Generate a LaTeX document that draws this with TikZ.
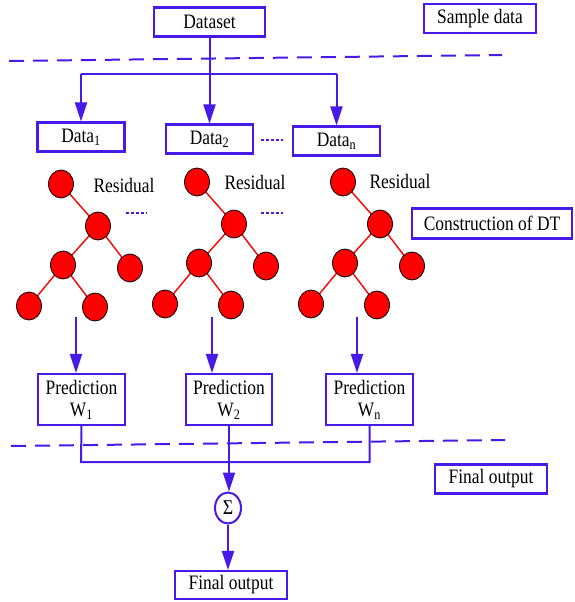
\documentclass[tikz,border=0pt]{standalone}
\usepackage{fontspec}
\setmainfont[FakeStretch=0.85]{Liberation Serif}
\usetikzlibrary{arrows.meta,shapes.geometric}
\definecolor{bl}{RGB}{72,26,232}
\definecolor{rd}{RGB}{255,0,0}
\tikzset{
  box/.style={draw=bl,line width=2.1pt,fill=white,rectangle,inner sep=0pt,font=\fontsize{20.5}{22}\selectfont,align=center},
  conn/.style={draw=bl,line width=2pt},
  arr/.style={conn,-{Triangle[length=19pt,width=12pt]}},
  dash2/.style={draw=bl,line width=2pt,dash pattern=on 15pt off 9pt},
  dots/.style={draw=bl,line width=2pt,dash pattern=on 2.5pt off 2.5pt},
  leaf/.style={ellipse,draw=black,line width=0.8pt,fill=rd,minimum width=25pt,minimum height=28pt,inner sep=0pt},
  edge/.style={draw=rd,line width=1.4pt},
  lbl/.style={font=\fontsize{20.5}{22}\selectfont,inner sep=0pt},
}
\begin{document}
\begin{tikzpicture}[x=1pt,y=-1pt]
\useasboundingbox (0,0) rectangle (574,602);
% top boxes
\node[box,minimum width=111pt,minimum height=29pt] (dataset) at (209.5,22) {Dataset};
\node[box,minimum width=112pt,minimum height=29pt] (sample) at (480,18.5) {Sample data};
% dashed line 1
\coordinate (dA1) at (9,61);
\coordinate (dA2) at (502,55);
\draw[dash2] (dA1) -- (dA2);
% data boxes
\node[box,minimum width=87pt,minimum height=29pt] (d1) at (81,137) {Data\textsubscript{1}};
\node[box,minimum width=87pt,minimum height=29pt] (d2) at (209.5,139) {Data\textsubscript{2}};
\node[box,minimum width=87pt,minimum height=29pt] (dn) at (336.5,141) {Data\textsubscript{n}};
\coordinate (br1) at (81,74);
\coordinate (brn) at (336.5,74);
\draw[conn] (br1) -- (brn);
\draw[arr] (br1) -- (d1.north);
\draw[arr] (brn) -- (dn.north);
\draw[arr] (dataset.south) -- (d2.north);
\coordinate (dd1) at (261,140);
\coordinate (dd2) at (283,140);
\draw[dots] (dd1) -- (dd2);
% trees
\foreach \i/\rx/\ry in {1/61/184, 2/197/182, 3/343/182} {
  \coordinate (cr\i) at (\rx,\ry);
  \coordinate (cm\i) at (\rx+37,\ry+42);
  \coordinate (cl\i) at (\rx+2,\ry+81);
  \coordinate (crr\i) at (\rx+69,\ry+84);
  \coordinate (cll\i) at (\rx-32,\ry+122);
  \coordinate (clr\i) at (\rx+34,\ry+123);
  \draw[edge] (cr\i) -- (cm\i);
  \draw[edge] (cm\i) -- (cl\i);
  \draw[edge] (cm\i) -- (crr\i);
  \draw[edge] (cl\i) -- (cll\i);
  \draw[edge] (cl\i) -- (clr\i);
  \node[leaf] (r\i) at (cr\i) {};
  \node[leaf] (m\i) at (cm\i) {};
  \node[leaf] (l\i) at (cl\i) {};
  \node[leaf] (rr\i) at (crr\i) {};
  \node[leaf] (ll\i) at (cll\i) {};
  \node[leaf] (lr\i) at (clr\i) {};
}
\node[lbl] (res1) at (124,185) {Residual};
\node[lbl] (res2) at (255,182) {Residual};
\node[lbl] (res3) at (400,181) {Residual};
\coordinate (td1a) at (126,213);
\coordinate (td1b) at (147,213);
\coordinate (td2a) at (261,213);
\coordinate (td2b) at (283,213);
\draw[dots] (td1a) -- (td1b);
\draw[dots] (td2a) -- (td2b);
\node[box,minimum width=160pt,minimum height=30pt] (cons) at (492,223.5) {Construction of DT};
% prediction boxes
\node[box,minimum width=87pt,minimum height=51pt] (p1) at (81.5,399.5) {Prediction\\W\textsubscript{1}};
\node[box,minimum width=86pt,minimum height=51pt] (p2) at (229,399.5) {Prediction\\W\textsubscript{2}};
\node[box,minimum width=87pt,minimum height=51pt] (pn) at (369.5,399.5) {Prediction\\W\textsubscript{n}};
\coordinate (a1) at (76,317);
\coordinate (a2) at (212,317);
\coordinate (a3) at (357,317);
\draw[arr] (a1) -- (a1 |- p1.north);
\draw[arr] (a2) -- (a2 |- p2.north);
\draw[arr] (a3) -- (a3 |- pn.north);
% dashed line 2
\coordinate (dB1) at (11,446);
\coordinate (dB2) at (505,440);
\draw[dash2] (dB1) -- (dB2);
% sum
\node[ellipse,draw=bl,line width=2pt,fill=white,minimum width=26pt,minimum height=31pt,inner sep=0pt,font=\fontsize{21}{22}\selectfont] (sig) at (228,508) {Σ};
\coordinate (j1) at (81,462);
\coordinate (jn) at (369.5,462);
\draw[conn] (p1.south) -- (j1) -- (jn) -- (pn.south);
\draw[arr] (p2.south) -- (p2.south |- sig.north);
\node[box,minimum width=112pt,minimum height=28pt] (final) at (231,585) {Final output};
\draw[arr] (sig.south) -- (sig.south |- final.north);
\node[box,minimum width=112pt,minimum height=29pt] (final2) at (491,479) {Final output};
\end{tikzpicture}
\end{document}
